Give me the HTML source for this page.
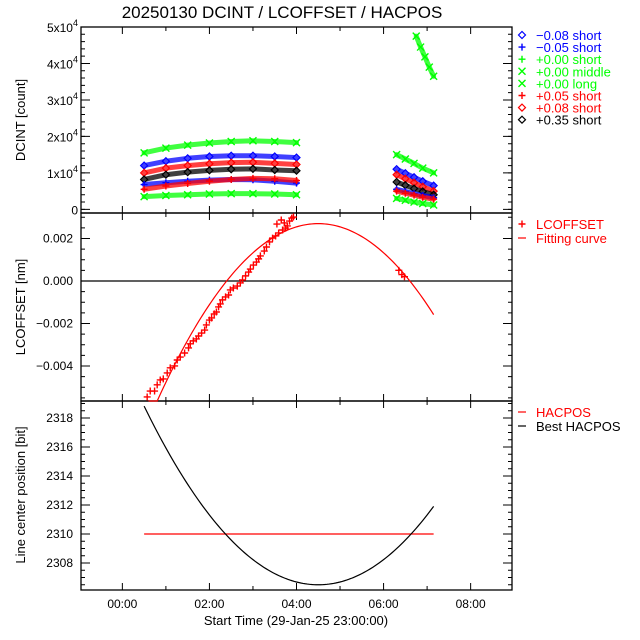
<!DOCTYPE html>
<html><head><meta charset="utf-8"><style>
html,body{margin:0;padding:0;background:#fff;}
svg{display:block;font-family:"Liberation Sans",sans-serif;}
</style></head><body>
<svg id="chart" width="640" height="640" viewBox="0 0 640 640">
<rect x="0" y="0" width="640" height="640" fill="#fff"/>
<text x="282" y="18" text-anchor="middle" font-size="17">20250130 DCINT / LCOFFSET / HACPOS</text>
</svg>
<script>
// ---- data ----
const xTicks=[0,2,4,6,8];
const xTickLabels=["00:00","02:00","04:00","06:00","08:00"];
const segATimes=[0.5,1.0,1.5,2.0,2.5,3.0,3.5,4.0];
const segBTimes=[6.3,6.5,6.7,6.9,7.15];
const greenShortA=[15500,16800,17600,18200,18600,18800,18600,18300];
const greenShortB=[15000,13800,12600,11300,10000];
const blueDiaA=[12000,13200,14000,14500,14700,14700,14500,14200];
const blueDiaB=[11000,9900,8800,7700,6500];
const redDiaA=[10000,11300,12000,12500,12800,12900,12600,12300];
const redDiaB=[9500,8400,7300,6200,5000];
const blackA=[8200,9500,10200,10700,11000,11100,10800,10600];
const blackB=[7500,6600,5700,4900,4000];
const bluePlusA=[6800,7300,7700,8000,8200,8100,7700,7200];
const bluePlusB=[5500,4900,4300,3800,3200];
const redPlusA=[5500,6400,7100,7700,8200,8500,8400,7900];
const redPlusB=[5000,4400,3900,3300,2800];
const greenLongA=[3500,3800,4000,4200,4300,4300,4200,4000];
const greenLongB=[3000,2500,2000,1600,1200];
const greenMidTimes=[6.75,6.85,6.95,7.05,7.15];
const greenMid=[47500,44500,41800,39000,36500];
const dcTicks=[0,10000,20000,30000,40000,50000];
const lcTimes=[0.57,0.64,0.74,0.80,0.87,0.94,1.03,1.10,1.20,1.26,1.33,1.43,1.52,1.56,1.63,1.70,1.75,1.82,1.89,1.93,2.00,2.05,2.11,2.16,2.21,2.25,2.30,2.37,2.44,2.48,2.55,2.64,2.71,2.76,2.83,2.90,2.94,3.01,3.08,3.13,3.17,3.26,3.31,3.38,3.45,3.52,3.59,3.68,3.75,3.79,3.84,3.89,3.93,3.55,3.65,3.72,6.35,6.42,6.48];
const lcValues=[-0.00546,-0.00518,-0.00518,-0.00489,-0.00466,-0.00461,-0.00433,-0.00409,-0.0040,-0.00372,-0.00358,-0.00339,-0.00315,-0.00296,-0.00282,-0.00273,-0.00259,-0.00245,-0.00231,-0.00207,-0.00184,-0.00174,-0.00155,-0.00146,-0.00122,-0.00108,-0.00089,-0.00075,-0.00066,-0.00042,-0.00033,-0.00024,-0.00009,0.00005,0.00024,0.00042,0.00056,0.00075,0.00089,0.00104,0.00118,0.00141,0.0016,0.00184,0.00202,0.00212,0.00226,0.00240,0.00249,0.00259,0.00282,0.00296,0.00301,0.00268,0.00287,0.00273,0.0005,0.0003,0.0002];
const lcTicks=[0.002,0,-0.002,-0.004];
const lcTickLabels=["0.002","0.000","\u22120.002","\u22120.004"];
const fitPeakTime=4.5, fitPeak=0.0027, fitCoef=0.00061, fitStart=0.6, fitEnd=7.15;
const hacTicks=[2308,2310,2312,2314,2316,2318];
const hacpos=2310, hacStart=0.5, hacEnd=7.15;
const bestMinTime=4.5, bestMin=2306.5, bestCoef=0.77;

// ---- layout ----
const L=81,R=512;
const xMin=-0.95,xMax=8.95;
const P1={top:27,bot:213,min:-1000,max:50000};
const P2={top:213,bot:401,min:-0.00565,max:0.0032};
const P3={top:401,bot:590,min:2306.14,max:2319.17};
const X=t=>L+(t-xMin)/(xMax-xMin)*(R-L);
const Yf=p=>v=>p.bot-(v-p.min)/(p.max-p.min)*(p.bot-p.top);
const Y1=Yf(P1),Y2=Yf(P2),Y3=Yf(P3);
const svg=document.getElementById('chart');
const NS='http://www.w3.org/2000/svg';
function mk(tag,attrs,parent){const e=document.createElementNS(NS,tag);for(const k in attrs)e.setAttribute(k,attrs[k]);(parent||svg).appendChild(e);return e;}
const RED='#ff0000',BLUE='#0000ff',GREEN='#00ff00',BLACK='#000';

function marker(g,type,x,y,c,s){
  s=s||3.5;
  if(type==='plus'){mk('path',{d:`M${x-s},${y}H${x+s}M${x},${y-s}V${y+s}`,stroke:c,'stroke-width':1.4,fill:'none'},g);}
  else if(type==='x'){mk('path',{d:`M${x-s},${y-s}L${x+s},${y+s}M${x-s},${y+s}L${x+s},${y-s}`,stroke:c,'stroke-width':1.4,fill:'none'},g);}
  else {mk('path',{d:`M${x-s},${y}L${x},${y-s}L${x+s},${y}L${x},${y+s}Z`,stroke:c,'stroke-width':1.2,fill:'none'},g);}
}

function panel(p,Y,name,minorStep,majors,minorMin,minorMax){
  const g=mk('g',{});
  
  
  mk('rect',{x:L,y:p.top,width:R-L,height:p.bot-p.top,fill:'none',stroke:BLACK,'stroke-width':1.3},g);
  for(let h=0;h<=8;h++){const x=X(h);const len=h%2===0?7:4;
    mk('path',{d:`M${x},${p.bot}v${-len}M${x},${p.top}v${len}`,stroke:BLACK,'stroke-width':1},g);}
  for(let v=minorMin;v<=minorMax+1e-12;v+=minorStep){const y=Y(v);if(y<p.top-0.5||y>p.bot+0.5)continue;
    mk('path',{d:`M${L},${y}h4M${R},${y}h-4`,stroke:BLACK,'stroke-width':1},g);}
  majors.forEach(v=>{const y=Y(v);mk('path',{d:`M${L},${y}h9M${R},${y}h-9`,stroke:BLACK,'stroke-width':1},g);});
  return g;
}
panel(P1,Y1,'dcint-panel',2000,dcTicks,0,50000);
panel(P2,Y2,'lcoffset-panel',0.0005,lcTicks,-0.0055,0.003);
panel(P3,Y3,'hacpos-panel',0.5,hacTicks,2306.5,2319);

function ylab(txt,y,name){const t=mk('text',{x:73,y:y+4,'text-anchor':'end','font-size':12},svg);t.textContent=txt;
  return t;}
dcTicks.forEach(v=>{const y=Y1(v);
  const t=mk('text',{x:78,y:y+5,'text-anchor':'end','font-size':12});
  
  
  if(v===0){t.textContent='0';}else{
    const m=v/10000;const a=mk('tspan',{},t);a.textContent=m+'x10';const b=mk('tspan',{dy:-6,'font-size':9},t);b.textContent='4';}
});
lcTicks.forEach((v,i)=>ylab(lcTickLabels[i],Y2(v),'lcoffset-tick-label'));
hacTicks.forEach(v=>ylab(String(v),Y3(v),'hacpos-tick-label'));
xTicks.forEach((h,i)=>{const t=mk('text',{x:X(h),y:608,'text-anchor':'middle','font-size':12});t.textContent=xTickLabels[i];
  });
{const t=mk('text',{x:296,y:625,'text-anchor':'middle','font-size':13});t.textContent='Start Time (29-Jan-25 23:00:00)';
 }
function ytitle(txt,cy,name){const t=mk('text',{x:0,y:0,'text-anchor':'middle','font-size':13,transform:`translate(25,${cy}) rotate(-90)`});t.textContent=txt;
  }
ytitle('DCINT [count]',120,'dcint-axis-title');
ytitle('LCOFFSET [nm]',307,'lcoffset-axis-title');
ytitle('Line center position [bit]',495,'hacpos-axis-title');

const gd=mk('g',{});


function series(times,vals,c,type){
  const pts=times.map((t,i)=>X(t)+','+Y1(vals[i])).join(' ');
  const pl=mk('polyline',{points:pts,fill:'none',stroke:c,'stroke-width':5,'stroke-opacity':0.75,'stroke-linejoin':'round','stroke-linecap':'round'},gd);
  
  times.forEach((t,i)=>marker(gd,type,X(t),Y1(vals[i]),c,3.5));
}
series(segATimes,greenShortA,GREEN,'x');series(segBTimes,greenShortB,GREEN,'x');
series(segATimes,blueDiaA,BLUE,'d');series(segBTimes,blueDiaB,BLUE,'d');
series(segATimes,redDiaA,RED,'d');series(segBTimes,redDiaB,RED,'d');
series(segATimes,blackA,BLACK,'d');series(segBTimes,blackB,BLACK,'d');
series(segATimes,bluePlusA,BLUE,'plus');series(segBTimes,bluePlusB,BLUE,'plus');
series(segATimes,redPlusA,RED,'plus');series(segBTimes,redPlusB,RED,'plus');
series(segATimes,greenLongA,GREEN,'x');series(segBTimes,greenLongB,GREEN,'x');
series(greenMidTimes,greenMid,GREEN,'x');

const legItems=[['d',BLUE,'\u22120.08 short'],['plus',BLUE,'\u22120.05 short'],['plus',GREEN,'+0.00 short'],['x',GREEN,'+0.00 middle'],['x',GREEN,'+0.00 long'],['plus',RED,'+0.05 short'],['d',RED,'+0.08 short'],['d',BLACK,'+0.35 short']];
legItems.forEach((it,i)=>{const y=35+i*12.1;const g=mk('g',{});
  
  
  marker(g,it[0],522,y,it[1],3.5);
  const t=mk('text',{x:536,y:y+5,'font-size':13,fill:it[1]},g);t.textContent=it[2];});

const g2=mk('g',{});


mk('line',{x1:L,x2:R,y1:Y2(0),y2:Y2(0),stroke:BLACK,'stroke-width':1.2},g2);
let fp=[];for(let t=fitStart;t<=fitEnd+1e-9;t+=0.05){const v=fitPeak-fitCoef*(t-fitPeakTime)**2;const y=Math.min(P2.bot,Y2(v));fp.push(X(t)+','+y);}
{const pl=mk('polyline',{points:fp.join(' '),fill:'none',stroke:RED,'stroke-width':1.2},g2);
 }
lcTimes.forEach((t,i)=>marker(g2,'plus',X(t),Y2(lcValues[i]),RED,3.5));
{const g=mk('g',{});
 marker(g,'plus',522,224,RED,3.5);
 let t=mk('text',{x:536,y:229,'font-size':13,fill:RED},g);t.textContent='LCOFFSET';
 mk('path',{d:'M518,238h8',stroke:RED,'stroke-width':1.2},g);
 t=mk('text',{x:536,y:243,'font-size':13,fill:RED},g);t.textContent='Fitting curve';}

const g3=mk('g',{});


{const l=mk('line',{x1:X(hacStart),x2:X(hacEnd),y1:Y3(hacpos),y2:Y3(hacpos),stroke:RED,'stroke-width':1.3},g3);
 }
let bp=[];for(let t=hacStart;t<=hacEnd+1e-9;t+=0.05){bp.push(X(t)+','+Y3(bestMin+bestCoef*(t-bestMinTime)**2));}
{const pl=mk('polyline',{points:bp.join(' '),fill:'none',stroke:BLACK,'stroke-width':1.2},g3);
 }
{const g=mk('g',{});
 mk('path',{d:'M518,412h8',stroke:RED,'stroke-width':1.2},g);
 let t=mk('text',{x:536,y:417,'font-size':13,fill:RED},g);t.textContent='HACPOS';
 mk('path',{d:'M518,426h8',stroke:BLACK,'stroke-width':1.2},g);
 t=mk('text',{x:536,y:431,'font-size':13,fill:BLACK},g);t.textContent='Best HACPOS';}
</script>
</body></html>
